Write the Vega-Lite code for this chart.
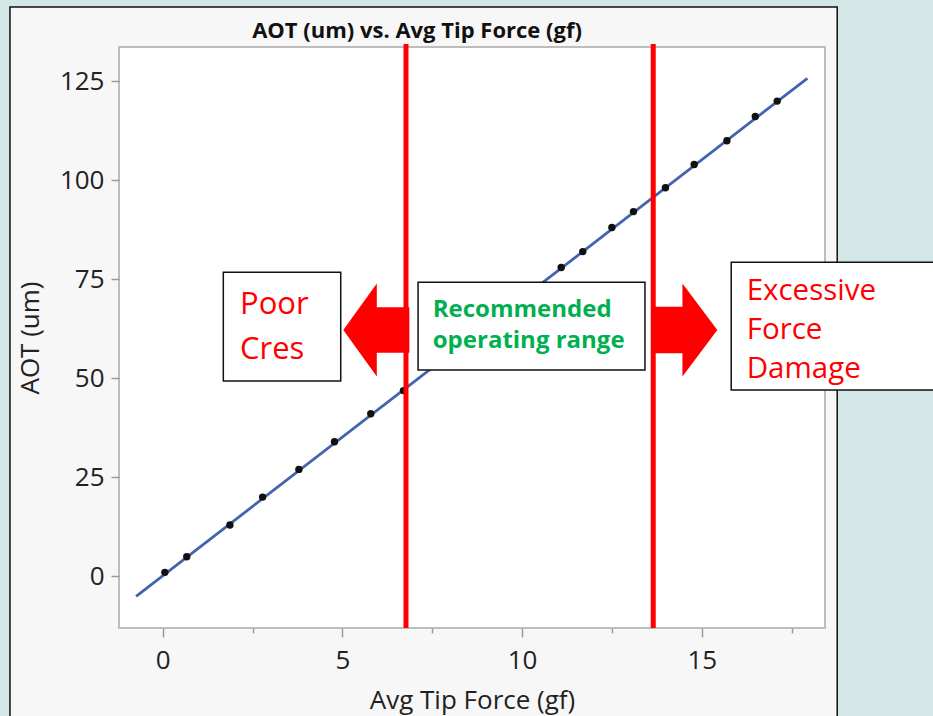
{
  "$schema": "https://vega.github.io/schema/vega-lite/v6.json",
  "width": 706,
  "height": 581,
  "autosize": {"type": "none"},
  "padding": {"left": 119, "top": 47, "right": 108, "bottom": 88},
  "background": "#d4e6e6",
  "config": {"view": {"stroke": null, "fill": null}, "font": "Open Sans"},
  "title": {
    "text": "AOT (um) vs. Avg Tip Force (gf)",
    "font": "Open Sans",
    "fontSize": 22,
    "fontWeight": "bold",
    "color": "#111111",
    "anchor": "middle",
    "baseline": "alphabetic",
    "dx": -55,
    "dy": 53.5,
    "offset": 0,
    "zindex": 1
  },
  "datasets": {
    "panel": [{"x0": -4.25, "x1": 18.77, "y0": 143.76, "y1": -45}],
    "plotarea": [{"x0": -1.216, "x1": 18.43, "y0": -13.05, "y1": 133.66}],
    "fit": [{"force": -0.74, "aot": -5.05}, {"force": 17.94, "aot": 125.76}],
    "obs": [
      {"force": 0.06, "aot": 1.0},
      {"force": 0.67, "aot": 4.95},
      {"force": 1.87, "aot": 12.95},
      {"force": 2.78, "aot": 20.0},
      {"force": 3.79, "aot": 27.0},
      {"force": 4.78, "aot": 34.0},
      {"force": 5.79, "aot": 41.06},
      {"force": 6.7, "aot": 46.9},
      {"force": 11.09, "aot": 78.0},
      {"force": 11.69, "aot": 82.0},
      {"force": 12.5, "aot": 88.1},
      {"force": 13.1, "aot": 92.1},
      {"force": 13.99, "aot": 98.1},
      {"force": 14.79, "aot": 104.0},
      {"force": 15.7, "aot": 110.0},
      {"force": 16.49, "aot": 116.1},
      {"force": 17.1, "aot": 120.0}
    ],
    "boxes": [
      {"name": "poor", "x0": 1.687, "x1": 4.954, "y0": 49.32, "y1": 76.77},
      {"name": "rec", "x0": 7.106, "x1": 13.42, "y0": 52.1, "y1": 74.24},
      {"name": "exc", "x0": 15.82, "x1": 21.9, "y0": 47.05, "y1": 79.29}
    ],
    "arrowsL": [{"force": 5.945, "aot": 62.2}],
    "arrowsR": [{"force": 14.54, "aot": 62.2}],
    "limits": [
      {"force": 6.77, "lo": -13.05, "hi": 134.4},
      {"force": 13.65, "lo": -13.05, "hi": 134.4}
    ],
    "redtext": [
      {"label": "Poor\nCres", "force": 2.151, "aot": 66.16, "group": "poor"}
    ],
    "redtext2": [
      {"label": "Excessive\nForce\nDamage", "force": 16.25, "aot": 69.77, "group": "exc"}
    ],
    "greentext": [
      {"label": "Recommended\noperating range", "force": 7.515, "aot": 65.4, "group": "rec"}
    ]
  },
  "encoding": {
    "x": {
      "type": "quantitative",
      "scale": {"domain": [-1.216, 18.43], "nice": false, "zero": false},
      "axis": {
        "title": "Avg Tip Force (gf)",
        "values": [0, 2.5, 5, 7.5, 10, 12.5, 15, 17.5],
        "labelExpr": "datum.value % 5 === 0 ? format(datum.value, 'd') : ''",
        "tickSize": {"condition": {"test": "datum.value % 5 === 0", "value": 9}, "value": 5},
        "tickColor": "#9a9a9a",
        "tickWidth": 1.5,
        "domain": false,
        "grid": false,
        "labelFont": "Open Sans",
        "labelFontSize": 26,
        "labelColor": "#222222",
        "labelPadding": 10,
        "labelFlush": false,
        "titleFont": "Open Sans",
        "titleFontSize": 26,
        "titleFontWeight": "normal",
        "titleColor": "#222222",
        "titlePadding": 14,
        "zindex": 1
      }
    },
    "y": {
      "type": "quantitative",
      "scale": {"domain": [-13.05, 133.66], "nice": false, "zero": false},
      "axis": {
        "title": "AOT (um)",
        "values": [0, 25, 50, 75, 100, 125],
        "tickSize": 8,
        "tickColor": "#9a9a9a",
        "tickWidth": 1.5,
        "domain": false,
        "grid": false,
        "labelFont": "Open Sans",
        "labelFontSize": 26,
        "labelColor": "#222222",
        "labelPadding": 7,
        "labelFlush": false,
        "titleFont": "Open Sans",
        "titleFontSize": 26,
        "titleFontWeight": "normal",
        "titleColor": "#222222",
        "titlePadding": 16,
        "zindex": 1
      }
    }
  },
  "layer": [
    {
      "data": {"name": "panel"},
      "mark": {"type": "rect", "fill": "#f7f7f7", "stroke": "#111111", "strokeWidth": 1.5, "clip": false},
      "encoding": {
        "x": {"field": "x0", "type": "quantitative"},
        "x2": {"field": "x1"},
        "y": {"field": "y0", "type": "quantitative"},
        "y2": {"field": "y1"}
      }
    },
    {
      "data": {"name": "plotarea"},
      "mark": {"type": "rect", "fill": "white", "stroke": "#bdbdbd", "strokeWidth": 2, "clip": false},
      "encoding": {
        "x": {"field": "x0", "type": "quantitative"},
        "x2": {"field": "x1"},
        "y": {"field": "y0", "type": "quantitative"},
        "y2": {"field": "y1"}
      }
    },
    {
      "data": {"name": "fit"},
      "mark": {"type": "line", "color": "#4264ad", "strokeWidth": 2.8},
      "encoding": {
        "x": {"field": "force", "type": "quantitative"},
        "y": {"field": "aot", "type": "quantitative"}
      }
    },
    {
      "data": {"name": "obs"},
      "mark": {"type": "circle", "color": "#111111", "size": 55, "opacity": 1},
      "encoding": {
        "x": {"field": "force", "type": "quantitative"},
        "y": {"field": "aot", "type": "quantitative"}
      }
    },
    {
      "data": {"name": "boxes"},
      "mark": {"type": "rect", "fill": "white", "stroke": "#111111", "strokeWidth": 1.5, "clip": false},
      "encoding": {
        "x": {"field": "x0", "type": "quantitative"},
        "x2": {"field": "x1"},
        "y": {"field": "y0", "type": "quantitative"},
        "y2": {"field": "y1"}
      }
    },
    {
      "data": {"name": "arrowsL"},
      "mark": {"type": "point", "filled": true, "color": "#ff0000", "opacity": 1, "size": 8649,
        "shape": "M -0.71 0 L 0.01 -1 L 0.01 -0.49 L 0.71 -0.49 L 0.71 0.49 L 0.01 0.49 L 0.01 1 Z"},
      "encoding": {
        "x": {"field": "force", "type": "quantitative"},
        "y": {"field": "aot", "type": "quantitative"}
      }
    },
    {
      "data": {"name": "arrowsR"},
      "mark": {"type": "point", "filled": true, "color": "#ff0000", "opacity": 1, "size": 8649,
        "shape": "M 0.69 0 L -0.06 -1 L -0.06 -0.5 L -0.69 -0.5 L -0.69 0.5 L -0.06 0.5 L -0.06 1 Z"},
      "encoding": {
        "x": {"field": "force", "type": "quantitative"},
        "y": {"field": "aot", "type": "quantitative"}
      }
    },
    {
      "data": {"name": "limits"},
      "mark": {"type": "rule", "color": "#ff0000", "strokeWidth": 5, "clip": false},
      "encoding": {
        "x": {"field": "force", "type": "quantitative"},
        "y": {"field": "lo", "type": "quantitative"},
        "y2": {"field": "hi"}
      }
    },
    {
      "data": {"name": "redtext"},
      "mark": {"type": "text", "align": "left", "baseline": "alphabetic", "font": "Open Sans", "fontSize": 31, "color": "#ff0000", "lineBreak": "\n", "lineHeight": 45, "clip": false},
      "encoding": {
        "x": {"field": "force", "type": "quantitative"},
        "y": {"field": "aot", "type": "quantitative"},
        "text": {"field": "label"}
      }
    },
    {
      "data": {"name": "redtext2"},
      "mark": {"type": "text", "align": "left", "baseline": "alphabetic", "font": "Open Sans", "fontSize": 29.5, "color": "#ff0000", "lineBreak": "\n", "lineHeight": 39, "clip": false},
      "encoding": {
        "x": {"field": "force", "type": "quantitative"},
        "y": {"field": "aot", "type": "quantitative"},
        "text": {"field": "label"}
      }
    },
    {
      "data": {"name": "greentext"},
      "mark": {"type": "text", "align": "left", "baseline": "alphabetic", "font": "Open Sans", "fontSize": 24, "fontWeight": "bold", "color": "#00b050", "lineBreak": "\n", "lineHeight": 31, "clip": false},
      "encoding": {
        "x": {"field": "force", "type": "quantitative"},
        "y": {"field": "aot", "type": "quantitative"},
        "text": {"field": "label"}
      }
    }
  ]
}
